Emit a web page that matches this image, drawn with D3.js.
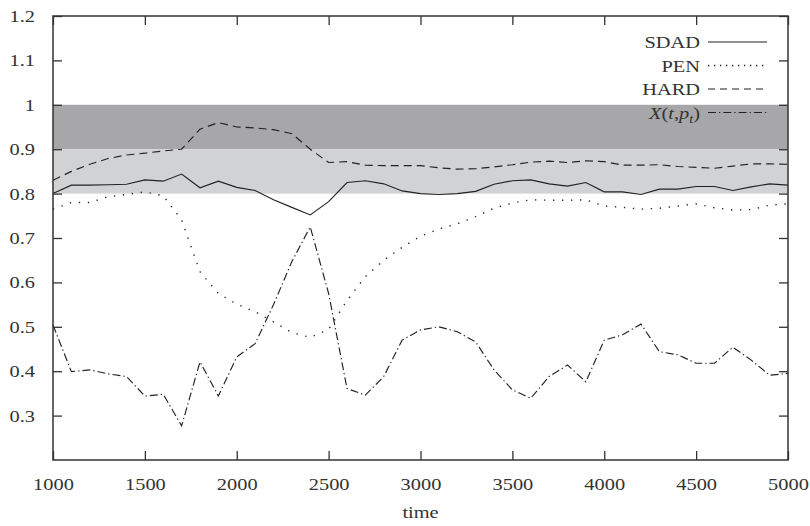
<!DOCTYPE html>
<html>
<head>
<meta charset="utf-8">
<script src="https://cdn.jsdelivr.net/npm/d3@7"></script>
<style>
  body { margin: 0; background: #fff; }
</style>
</head>
<body>
<div id="chart"></div>
<script>
// time steps
var times = d3.range(1000, 5001, 100);

var sdad = [0.800, 0.819, 0.819, 0.820, 0.821, 0.831, 0.828, 0.844, 0.813, 0.828,
            0.814, 0.807, 0.786, 0.769, 0.752, 0.782, 0.825, 0.829, 0.822, 0.806,
            0.800, 0.798, 0.800, 0.805, 0.821, 0.829, 0.831, 0.822, 0.817, 0.825,
            0.804, 0.804, 0.798, 0.810, 0.810, 0.816, 0.816, 0.807, 0.815, 0.822, 0.819];

var pen = [0.765, 0.780, 0.780, 0.793, 0.798, 0.804, 0.795, 0.741, 0.624, 0.575,
           0.551, 0.534, 0.511, 0.487, 0.476, 0.494, 0.559, 0.613, 0.650, 0.679,
           0.704, 0.720, 0.732, 0.748, 0.767, 0.779, 0.786, 0.785, 0.785, 0.786,
           0.772, 0.769, 0.765, 0.767, 0.772, 0.777, 0.768, 0.763, 0.764, 0.774, 0.777];

var hard = [0.830, 0.850, 0.866, 0.879, 0.887, 0.891, 0.896, 0.900, 0.945, 0.960,
            0.950, 0.948, 0.944, 0.935, 0.900, 0.870, 0.872, 0.864, 0.863, 0.863,
            0.863, 0.858, 0.855, 0.856, 0.860, 0.865, 0.871, 0.873, 0.870, 0.874,
            0.872, 0.864, 0.864, 0.865, 0.861, 0.859, 0.857, 0.862, 0.867, 0.867, 0.866];

var chi = [0.504, 0.399, 0.403, 0.394, 0.388, 0.344, 0.348, 0.277, 0.421, 0.344,
           0.432, 0.462, 0.550, 0.647, 0.725, 0.575, 0.361, 0.346, 0.388, 0.470,
           0.493, 0.500, 0.489, 0.466, 0.403, 0.358, 0.339, 0.388, 0.414, 0.376,
           0.470, 0.482, 0.506, 0.444, 0.437, 0.418, 0.418, 0.454, 0.425, 0.391, 0.395];

var xTicks = [1000, 1500, 2000, 2500, 3000, 3500, 4000, 4500, 5000];
var yTicks = [0.3, 0.4, 0.5, 0.6, 0.7, 0.8, 0.9, 1, 1.1, 1.2];

// shaded bands [low, high, colour]
var bands = [[0.9, 1.0, "#a7a7a9"], [0.8, 0.9, "#d1d2d4"]];

var series = [
  {name: "SDAD", values: sdad, dash: null, legendDash: null},
  {name: "PEN", values: pen, dash: "1.3,7.7", legendDash: "1.3,4.7"},
  {name: "HARD", values: hard, dash: "8,5", legendDash: "7,5"},
  {name: "chi", values: chi, dash: "8,3,1.3,3", legendDash: "8,3,1.3,3"}
];

var FONT = "'Liberation Serif', 'Times New Roman', 'DejaVu Serif', serif";
var stretch = 1.2; // the original figure's text is a bit wider than tall

var W = 810, H = 526;
var margin = {top: 16, right: 22, bottom: 66, left: 53},
    width = W - margin.left - margin.right,
    height = H - margin.top - margin.bottom;

var svg = d3.select("#chart").append("svg")
    .attr("width", W).attr("height", H);

var g = svg.append("g")
    .attr("transform", "translate(" + margin.left + "," + margin.top + ")");

var x = d3.scaleLinear().domain([1000, 5000]).range([0, width]);
var y = d3.scaleLinear().domain([0.2, 1.2]).range([height, 0]);

// bands
g.selectAll("rect.band").data(bands).enter().append("rect")
    .attr("class", "band")
    .attr("x", 0).attr("width", width)
    .attr("y", function (d) { return y(d[1]); })
    .attr("height", function (d) { return y(d[0]) - y(d[1]); })
    .attr("fill", function (d) { return d[2]; });

// lines
var line = d3.line()
    .x(function (d, i) { return x(times[i]); })
    .y(function (d) { return y(d); });

g.selectAll("path.series").data(series).enter().append("path")
    .attr("class", "series")
    .attr("d", function (d) { return line(d.values); })
    .attr("fill", "none")
    .attr("stroke", "#222")
    .attr("stroke-width", function (d) { return d.name == "PEN" ? 1.4 : 1.15; })
    .attr("stroke-dasharray", function (d) { return d.dash; });

// axes: ticks pointing inward, mirrored on top and right
var tickLen = 9;
var axisStyle = function (sel) {
    sel.attr("font-family", null).attr("font-size", null);
    sel.select(".domain").remove();
    sel.selectAll(".tick line").attr("stroke", "#333").attr("stroke-width", 1.3);
    sel.selectAll(".tick text")
        .style("font-family", FONT)
        .style("font-size", "17px")
        .attr("fill", "#333")
        .attr("x", function () { return +d3.select(this).attr("x") / stretch; })
        .attr("transform", "scale(" + stretch + ",1)");
};

g.append("g")
    .attr("transform", "translate(0," + height + ")")
    .call(d3.axisBottom(x).tickValues(xTicks).tickSize(-tickLen).tickPadding(18).tickFormat(d3.format("d")))
    .call(axisStyle);

g.append("g")
    .call(d3.axisTop(x).tickValues(xTicks).tickSize(-tickLen).tickFormat(""))
    .call(axisStyle);

g.append("g")
    .call(d3.axisLeft(y).tickValues(yTicks).tickSize(-tickLen).tickPadding(18)
        .tickFormat(function (d) { return d3.format("")(+d.toFixed(1)); }))
    .call(axisStyle);

g.append("g")
    .attr("transform", "translate(" + width + ",0)")
    .call(d3.axisRight(y).tickValues(yTicks).tickSize(-tickLen).tickFormat(""))
    .call(axisStyle);

// frame
g.append("rect")
    .attr("width", width).attr("height", height)
    .attr("fill", "none").attr("stroke", "#333").attr("stroke-width", 1.5);

// x label
svg.append("text")
    .attr("transform", "translate(" + (margin.left + width / 2) + ",518) scale(" + stretch + ",1)")
    .attr("text-anchor", "middle")
    .attr("fill", "#333")
    .style("font-family", FONT)
    .style("font-size", "17px")
    .text("time");

// legend
var legend = svg.append("g");
var rows = legend.selectAll("g").data(series).enter().append("g")
    .attr("transform", function (d, i) { return "translate(0," + (42 + i * 23.5) + ")"; });

rows.append("line")
    .attr("x1", 708).attr("x2", 767)
    .attr("stroke", "#222")
    .attr("stroke-width", function (d) { return d.name == "PEN" ? 1.4 : 1.15; })
    .attr("stroke-dasharray", function (d) { return d.legendDash; });

var labels = rows.append("text")
    .attr("transform", "translate(700,6) scale(" + stretch + ",1)")
    .attr("text-anchor", "end")
    .attr("fill", "#333")
    .style("font-family", FONT)
    .style("font-size", "17px");

labels.filter(function (d) { return d.name != "chi"; })
    .text(function (d) { return d.name; });

var chiLabel = labels.filter(function (d) { return d.name == "chi"; });
chiLabel.append("tspan").style("font-style", "italic").text("X");
chiLabel.append("tspan").text("(");
chiLabel.append("tspan").style("font-style", "italic").text("t");
chiLabel.append("tspan").text(",");
chiLabel.append("tspan").style("font-style", "italic").text("p");
chiLabel.append("tspan").style("font-style", "italic").style("font-size", "12px").attr("dy", 4).text("t");
chiLabel.append("tspan").attr("dy", -4).text(")");
</script>
</body>
</html>
